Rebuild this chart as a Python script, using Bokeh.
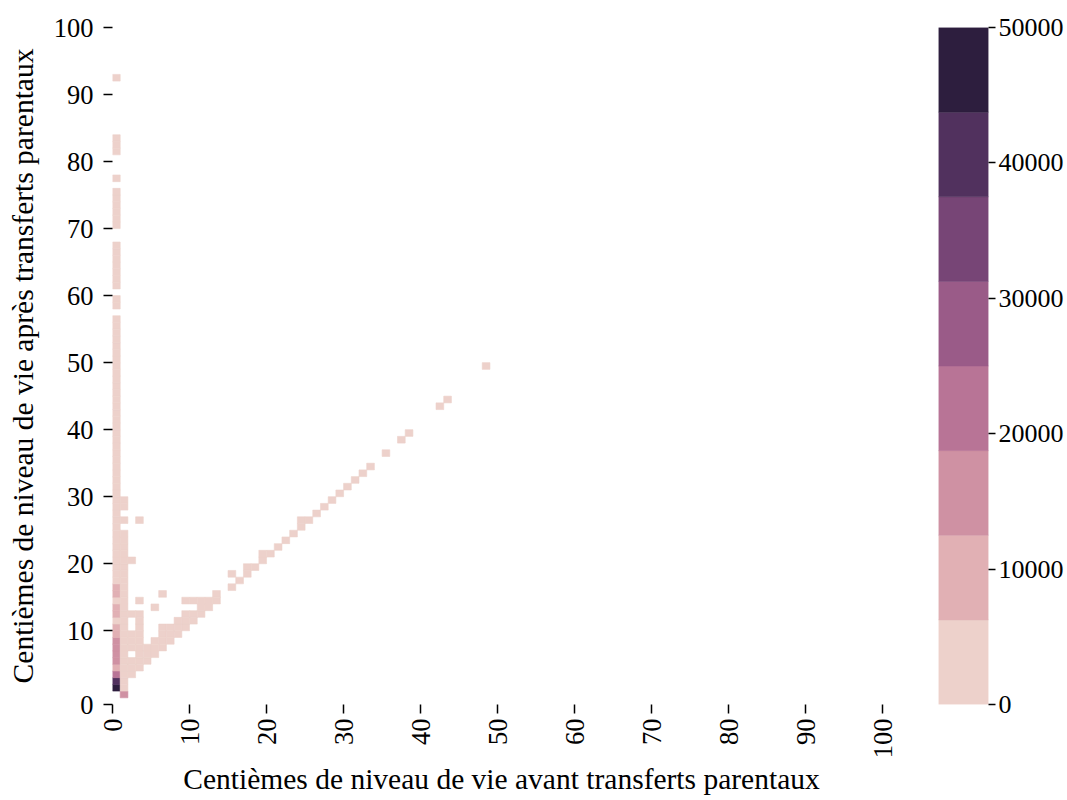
import math
from bokeh.plotting import figure
from bokeh.layouts import row
from bokeh.models import ColumnDataSource, LinearColorMapper, FixedTicker
from bokeh.transform import transform
from bokeh.embed import file_html
from bokeh.resources import INLINE

FONT = "Liberation Serif"

# ---- data: cell counts (centile before transfers = avant, centile row index = apres)
# column 0 (avant = 0)
apres_c0 = [2, 3, 4, 5, 6, 7, 8, 9, 10, 11, 12, 13, 14, 15, 16, 17,
            18, 19, 20, 21, 22, 23, 24, 25, 26, 27, 28, 29, 30, 31, 32, 33, 34, 35, 36, 37,
            38, 39, 40, 41, 42, 43, 44, 45, 46, 47, 48, 49, 50, 51, 52, 53, 54, 55, 56, 57,
            59, 60, 62, 63, 64, 65, 66, 67, 68, 71, 72, 73, 74, 75, 76, 78, 82, 83, 84, 93]
eff_c0 = [46500, 40500, 21000, 9500, 16000, 15500, 14800, 13900, 9000, 8600, 5200, 8900, 8300, 5600, 9100, 8200,
          5800, 5500, 5900, 5400, 5100, 4800, 4700, 4300, 4000, 3900, 3600, 3400, 3100, 2900, 2800, 2600, 2400, 2200, 2100, 1900,
          1800, 1700, 1500, 1400, 1300, 1200, 1100, 1000, 950, 900, 850, 800, 750, 700, 650, 600, 550, 500, 450, 400,
          300, 280, 260, 240, 220, 200, 190, 180, 170, 150, 140, 130, 120, 110, 100, 90, 70, 65, 60, 40]

# column 1 (avant = 1)
apres_c1 = [1, 2, 3, 4, 5, 6, 7, 8, 9, 10, 11, 12, 13, 14, 15, 16, 17, 18, 19, 20, 21, 22, 23, 24, 25, 27, 29, 30]
eff_c1 = [13800, 4200, 3900, 3600, 3300, 3000, 2800, 2600, 2400, 2200, 2000, 1800, 1700, 1600, 1500, 1400, 1300,
          1200, 1100, 1000, 900, 800, 700, 600, 500, 400, 300, 250]

# low centiles block (avant 2..13)
avant_d = [2, 2, 3, 2, 3, 4, 3, 4, 5, 2, 3, 4, 5, 6, 2, 3, 5, 6, 7, 2, 3, 6, 7, 8,
           3, 6, 7, 8, 9, 3, 8, 9, 10, 2, 3, 9, 10, 11, 5, 11, 12, 3, 9, 10, 11, 12, 13, 6, 13, 2, 3]
apres_d = [4, 5, 5, 6, 6, 6, 7, 7, 7, 8, 8, 8, 8, 8, 9, 9, 9, 9, 9, 10, 10, 10, 10, 10,
           11, 11, 11, 11, 11, 12, 12, 12, 12, 13, 13, 13, 13, 13, 14, 14, 14, 15, 15, 15, 15, 15, 15, 16, 16, 21, 27]
eff_d = [2600, 2200, 2000, 1900, 1700, 1600, 1500, 1400, 1300, 1400, 1300, 1200, 1100, 1000, 1200, 1100, 1000, 900, 850,
         1000, 900, 800, 750, 700, 800, 700, 650, 600, 550, 600, 550, 500, 450, 500, 450, 420, 400, 380,
         300, 350, 320, 280, 300, 290, 280, 270, 260, 200, 240, 180, 150]

# diagonal band (avant >= 15)
avant_g = [15, 16, 15, 17, 17, 18, 19, 19, 20, 21, 22, 23, 24, 24, 25, 26, 27, 28, 29, 30, 31, 32, 33, 35, 37, 38, 42, 43, 48]
apres_g = [17, 18, 19, 19, 20, 20, 21, 22, 22, 23, 24, 25, 26, 27, 27, 28, 29, 30, 31, 32, 33, 34, 35, 37, 39, 40, 44, 45, 50]
eff_g = [260, 250, 120, 240, 230, 220, 210, 200, 190, 180, 170, 160, 150, 140, 130, 120, 110, 100, 95, 90, 85, 80, 75,
         70, 60, 55, 45, 40, 30]

palette = ["#edd1cb", "#e1b0b4", "#cf91a3", "#b87496", "#9a5b88", "#774576", "#51315e", "#2d1e3e"]
cbar_edges = [0, 6250, 12500, 18750, 25000, 31250, 37500, 43750, 50000]
cbar_ticks = [0, 10000, 20000, 30000, 40000, 50000]
x_ticks = [0, 10, 20, 30, 40, 50, 60, 70, 80, 90, 100]
y_tick_labels = [0, 10, 20, 30, 40, 50, 60, 70, 80, 90, 100]
y_tick_pos = [0, 11, 21, 31, 41, 51, 61, 71, 81, 91, 101]

avant = [0] * len(apres_c0) + [1] * len(apres_c1) + avant_d + avant_g
apres = apres_c0 + apres_c1 + apres_d + apres_g
effectif = eff_c0 + eff_c1 + eff_d + eff_g

mapper = LinearColorMapper(palette=palette, low=cbar_edges[0], high=cbar_edges[-1])
src = ColumnDataSource(dict(left=avant, right=[a + 1 for a in avant],
                            bottom=apres, top=[b + 1 for b in apres], n=effectif))

p = figure(width=938, height=800, x_range=(0, 101), y_range=(0, 101),
           output_backend="svg", toolbar_location=None,
           min_border_left=112, min_border_right=48, min_border_top=27, min_border_bottom=96)
p.quad(left="left", right="right", bottom="bottom", top="top", source=src,
       fill_color=transform("n", mapper), line_color=transform("n", mapper), line_width=0.6)

p.xgrid.visible = False
p.ygrid.visible = False
p.outline_line_color = None
p.background_fill_color = "white"
p.border_fill_color = "white"

p.xaxis.ticker = FixedTicker(ticks=x_ticks)
p.yaxis.ticker = FixedTicker(ticks=y_tick_pos)
p.yaxis.major_label_overrides = {pos: str(lab) for pos, lab in zip(y_tick_pos, y_tick_labels)}
p.xaxis.major_label_orientation = math.pi / 2

for ax in (p.xaxis[0], p.yaxis[0]):
    ax.axis_line_color = None
    ax.major_tick_out = 9
    ax.major_tick_in = 0
    ax.major_tick_line_color = "black"
    ax.major_tick_line_width = 1.5
    ax.minor_tick_line_color = None
    ax.major_label_text_font = FONT
    ax.major_label_text_font_size = "26.5px"
    ax.major_label_text_color = "black"
    ax.axis_label_text_font = FONT
    ax.axis_label_text_font_size = "29.5px"
    ax.axis_label_text_font_style = "normal"
    ax.axis_label_text_color = "black"

p.xaxis.major_label_standoff = 5
p.xaxis.axis_label_standoff = 2
p.yaxis.major_label_standoff = 10
p.yaxis.axis_label_standoff = 12
p.xaxis.axis_label = "Centièmes de niveau de vie avant transferts parentaux"
p.yaxis.axis_label = "Centièmes de niveau de vie après transferts parentaux"

# ---- colour bar as its own small figure
cb = figure(width=129, height=800, x_range=(0, 1), y_range=(cbar_edges[0], cbar_edges[-1]),
            x_axis_location=None, y_axis_location="right",
            output_backend="svg", toolbar_location=None,
            min_border_left=0, min_border_right=79, min_border_top=27, min_border_bottom=96)
cb.quad(left=0, right=1, bottom=cbar_edges[:-1], top=cbar_edges[1:],
        fill_color=palette, line_color=palette, line_width=0.5)
cb.xgrid.visible = False
cb.ygrid.visible = False
cb.outline_line_color = None
cax = cb.yaxis[0]
cax.ticker = FixedTicker(ticks=cbar_ticks)
cax.axis_line_color = None
cax.major_tick_out = 7
cax.major_tick_in = 0
cax.major_tick_line_color = "black"
cax.major_tick_line_width = 1.5
cax.minor_tick_line_color = None
cax.major_label_standoff = 3
cax.major_label_text_font = FONT
cax.major_label_text_font_size = "26px"
cax.major_label_text_color = "black"

layout = row(p, cb)
open("out.html", "w").write(file_html(layout, INLINE))
